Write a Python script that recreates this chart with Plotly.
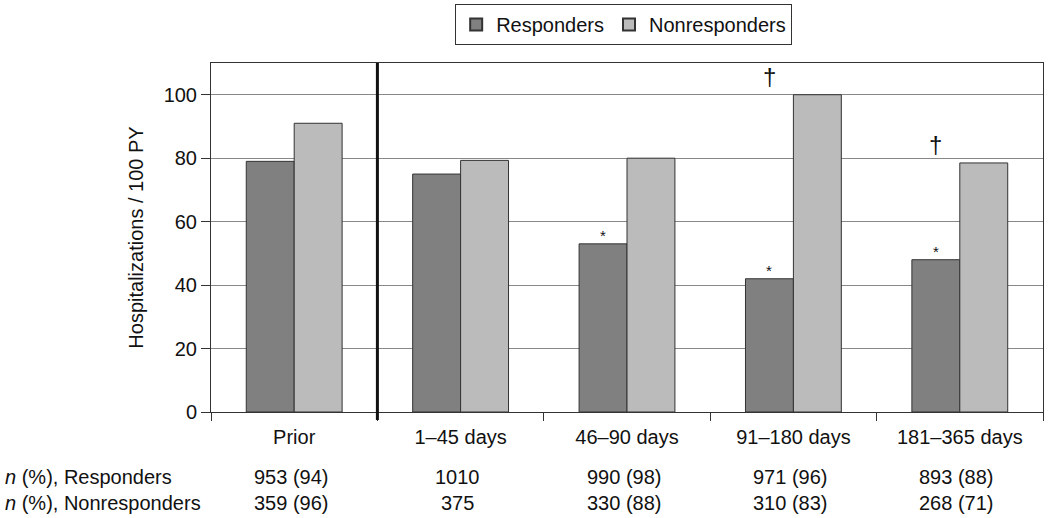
import plotly.graph_objects as go

categories = ["Prior", "1–45 days", "46–90 days", "91–180 days", "181–365 days"]
responders = [79, 75, 53, 42, 48]
nonresponders = [91, 79.3, 80, 100, 78.5]
resp_n = ["953 (94)", "1010", "990 (98)", "971 (96)", "893 (88)"]
nonresp_n = ["359 (96)", "375", "330 (88)", "310 (83)", "268 (71)"]
resp_mark = ["", "", "*", "*", "*"]
nonresp_mark = ["", "", "", "†", "†"]
y_ticks = [0, 20, 40, 60, 80, 100]

FONT = "Liberation Sans, Arial, sans-serif"
TXT = 20

fig = go.Figure()
fig.add_trace(go.Bar(name="Responders", x=categories, y=responders,
                     marker=dict(color="#808080", line=dict(color="#333333", width=1))))
fig.add_trace(go.Bar(name="Nonresponders", x=categories, y=nonresponders,
                     marker=dict(color="#bbbbbb", line=dict(color="#333333", width=1))))

ann = []
for i, c in enumerate(categories):
    if resp_mark[i]:
        ann.append(dict(x=c, y=responders[i], xref="x", yref="y", text=resp_mark[i],
                        showarrow=False, xshift=-24, yanchor="bottom", yshift=-2,
                        font=dict(size=15, color="#111")))
    if nonresp_mark[i]:
        ann.append(dict(x=c, y=nonresponders[i], xref="x", yref="y", text=nonresp_mark[i],
                        showarrow=False, xshift=-24, yanchor="bottom", yshift=3,
                        font=dict(size=24, color="#111")))
    ann.append(dict(x=c, y=-0.186, xref="x", yref="paper", text=resp_n[i], xshift=-3,
                    showarrow=False, yanchor="middle", font=dict(size=TXT, color="#111")))
    ann.append(dict(x=c, y=-0.261, xref="x", yref="paper", text=nonresp_n[i], xshift=-3,
                    showarrow=False, yanchor="middle", font=dict(size=TXT, color="#111")))

ann.append(dict(x=-0.25, y=-0.186, xref="paper", yref="paper", text="<i>n</i> (%), Responders",
                showarrow=False, xanchor="left", yanchor="middle", font=dict(size=TXT, color="#111")))
ann.append(dict(x=-0.25, y=-0.261, xref="paper", yref="paper", text="<i>n</i> (%), Nonresponders",
                showarrow=False, xanchor="left", yanchor="middle", font=dict(size=TXT, color="#111")))

fig.update_layout(
    width=1050, height=518,
    margin=dict(l=211, r=7, t=63, b=106, autoexpand=False),
    paper_bgcolor="white", plot_bgcolor="white",
    barmode="group", bargap=0.424, bargroupgap=0,
    font=dict(family=FONT, size=TXT, color="#111"),
    legend=dict(orientation="h", x=0.496, xanchor="center", y=1 - 4 / 518, yanchor="top",
                yref="container", bordercolor="#333", borderwidth=1, font=dict(size=20),
                itemsizing="constant", tracegroupgap=0),
    annotations=ann,
    shapes=[dict(type="line", xref="x", yref="paper", x0=0.5, x1=0.5, y0=-0.023, y1=1,
                 line=dict(color="#111", width=3))],
)
fig.update_xaxes(showline=True, linecolor="#333", linewidth=1, mirror=True, automargin=False,
                 ticks="outside", tickson="boundaries", ticklen=8, tickcolor="#333",
                 showgrid=False, tickfont=dict(size=TXT), ticklabelstandoff=7)
fig.update_yaxes(range=[0, 110], tickvals=y_ticks, showline=True, linecolor="#333",
                 linewidth=1, mirror=True, ticks="outside", ticklen=9, tickcolor="#333",
                 showgrid=True, gridcolor="#888", gridwidth=1, zeroline=False, automargin=False,
                 tickfont=dict(size=TXT),
                 title=dict(text="Hospitalizations / 100 PY", font=dict(size=20), standoff=14))

fig.write_html("out.html", config={"displayModeBar": False},
               post_script="document.body.style.margin='0';")
